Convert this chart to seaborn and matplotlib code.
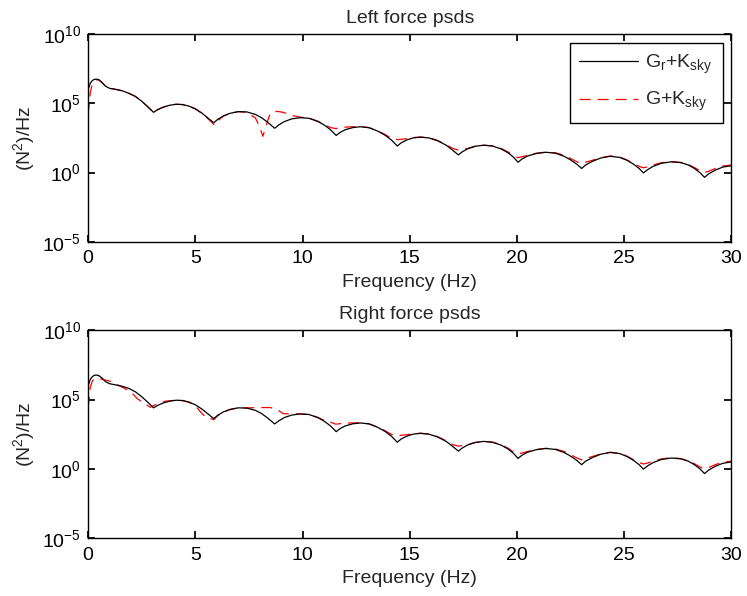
import numpy as np
import pandas as pd
import matplotlib
matplotlib.use("Agg")
import matplotlib.pyplot as plt
import matplotlib.ticker as mticker
import seaborn as sns

# ---- Force PSD data (frequency in Hz, log10 of PSD in N^2/Hz) ----
freq_gr_left = [0.0, 0.1, 0.2, 0.3, 0.4, 0.5, 0.65, 0.8, 1.0, 1.3, 1.6, 1.9, 2.2, 2.5, 2.8,
                3.05, 3.25, 3.5, 3.8, 4.1, 4.4, 4.7, 5.0, 5.3, 5.6,
                5.86, 6.05, 6.3, 6.6, 7.0, 7.4, 7.8, 8.1, 8.4,
                8.7, 8.9, 9.15, 9.5, 9.9, 10.3, 10.7, 11.0, 11.3,
                11.57, 11.75, 12.0, 12.35, 12.7, 13.1, 13.5, 13.85, 14.15,
                14.42, 14.6, 14.85, 15.15, 15.5, 15.9, 16.3, 16.7, 17.0,
                17.27, 17.45, 17.7, 18.05, 18.45, 18.85, 19.25, 19.6, 19.85,
                20.05, 20.25, 20.5, 20.9, 21.35, 21.8, 22.2, 22.5, 22.8,
                23.02, 23.2, 23.5, 23.9, 24.35, 24.8, 25.15, 25.45, 25.7,
                25.9, 26.1, 26.35, 26.75, 27.2, 27.65, 28.0, 28.3, 28.55,
                28.75, 28.95, 29.25, 29.6, 30.0]
logpsd_gr_left = [6.0, 6.45, 6.65, 6.73, 6.74, 6.7, 6.5, 6.25, 6.08, 6.0, 5.9, 5.72, 5.5, 5.15, 4.72,
                  4.35, 4.55, 4.72, 4.86, 4.93, 4.91, 4.8, 4.6, 4.3, 3.92,
                  3.6, 3.85, 4.08, 4.27, 4.4, 4.38, 4.2, 3.95, 3.6,
                  3.2, 3.45, 3.68, 3.88, 3.96, 3.92, 3.7, 3.45, 3.1,
                  2.68, 2.9, 3.1, 3.25, 3.31, 3.24, 3.0, 2.7, 2.35,
                  1.92, 2.15, 2.35, 2.5, 2.56, 2.5, 2.3, 1.98, 1.62,
                  1.28, 1.5, 1.72, 1.9, 1.98, 1.92, 1.72, 1.42, 1.1,
                  0.75, 1.0, 1.2, 1.38, 1.47, 1.4, 1.18, 0.92, 0.6,
                  0.3, 0.55, 0.8, 1.05, 1.18, 1.1, 0.88, 0.6, 0.3,
                  -0.02, 0.22, 0.45, 0.68, 0.78, 0.72, 0.55, 0.28, -0.02,
                  -0.34, -0.08, 0.18, 0.4, 0.5]

freq_g_left = [0.0, 0.1, 0.2, 0.3, 0.4, 0.5, 0.65, 0.8, 1.0, 1.3, 1.6, 1.9, 2.2, 2.5, 2.8,
               3.05, 3.25, 3.5, 3.8, 4.1, 4.4, 4.7, 5.0, 5.3, 5.6,
               5.9, 6.1, 6.3, 6.6, 7.0, 7.4, 7.8, 8.0, 8.15, 8.3,
               8.5, 8.8, 9.1, 9.5, 9.9, 10.3, 10.7, 11.0, 11.3,
               11.55, 11.75, 12.0, 12.35, 12.7, 13.1, 13.5, 13.85, 14.15,
               14.42, 14.6, 14.85, 15.15, 15.5, 15.9, 16.3, 16.7, 17.0,
               17.27, 17.45, 17.7, 18.05, 18.45, 18.85, 19.25, 19.6, 19.85,
               20.05, 20.25, 20.5, 20.9, 21.35, 21.8, 22.2, 22.5, 22.8,
               23.02, 23.2, 23.5, 23.9, 24.35, 24.8, 25.15, 25.45, 25.7,
               25.9, 26.1, 26.35, 26.75, 27.2, 27.65, 28.0, 28.3, 28.55,
               28.75, 28.95, 29.25, 29.6, 30.0]
logpsd_g_left = [4.2, 5.8, 6.4, 6.62, 6.7, 6.68, 6.48, 6.25, 6.08, 6.0, 5.9, 5.72, 5.5, 5.15, 4.72,
                 4.33, 4.55, 4.72, 4.86, 4.93, 4.91, 4.8, 4.6, 4.28, 3.88,
                 3.42, 3.8, 4.08, 4.27, 4.4, 4.35, 3.95, 3.3, 2.62, 3.4,
                 4.3, 4.42, 4.35, 4.12, 4.0, 3.93, 3.72, 3.5, 3.25,
                 3.18, 3.24, 3.28, 3.31, 3.32, 3.25, 3.02, 2.75, 2.48,
                 2.38, 2.4, 2.45, 2.53, 2.57, 2.51, 2.32, 2.02, 1.75,
                 1.62, 1.67, 1.74, 1.9, 1.98, 1.93, 1.75, 1.48, 1.2,
                 1.08, 1.15, 1.25, 1.4, 1.48, 1.43, 1.25, 1.02, 0.78,
                 0.65, 0.75, 0.88, 1.08, 1.2, 1.12, 0.9, 0.65, 0.45,
                 0.35, 0.42, 0.55, 0.72, 0.8, 0.74, 0.58, 0.35, 0.12,
                 0.02, 0.1, 0.3, 0.48, 0.55]

freq_gr_right = freq_gr_left
logpsd_gr_right = [6.0, 6.45, 6.66, 6.75, 6.76, 6.72, 6.55, 6.3, 6.14, 6.05, 5.95, 5.8, 5.56, 5.2, 4.78,
                   4.4, 4.58, 4.75, 4.88, 4.95, 4.93, 4.82, 4.62, 4.32, 3.95,
                   3.62, 3.87, 4.1, 4.28, 4.4, 4.38, 4.22, 3.98, 3.63,
                   3.24, 3.47, 3.7, 3.88, 3.96, 3.92, 3.7, 3.45, 3.1,
                   2.68, 2.9, 3.1, 3.25, 3.31, 3.24, 3.0, 2.7, 2.35,
                   1.92, 2.15, 2.35, 2.5, 2.56, 2.5, 2.3, 1.98, 1.62,
                   1.28, 1.5, 1.72, 1.9, 1.98, 1.92, 1.72, 1.42, 1.1,
                   0.75, 1.0, 1.2, 1.38, 1.47, 1.4, 1.18, 0.92, 0.6,
                   0.3, 0.55, 0.8, 1.05, 1.18, 1.1, 0.88, 0.6, 0.3,
                   -0.02, 0.22, 0.45, 0.68, 0.78, 0.72, 0.55, 0.28, -0.02,
                   -0.34, -0.08, 0.18, 0.4, 0.5]

freq_g_right = [0.0, 0.1, 0.2, 0.3, 0.4, 0.55, 0.75, 1.0, 1.4, 1.7, 2.0, 2.3, 2.6, 2.9,
                3.1, 3.3, 3.6, 4.1, 4.4, 4.7, 5.0, 5.3, 5.5,
                5.86, 6.05, 6.3, 6.6, 7.0, 7.5, 8.0, 8.5, 8.8,
                9.1, 9.5, 9.9, 10.3, 10.7, 11.0, 11.2,
                11.55, 11.75, 12.0, 12.35, 12.7, 13.1, 13.5, 13.85, 14.15,
                14.42, 14.6, 14.85, 15.15, 15.5, 15.9, 16.3, 16.7, 17.0,
                17.27, 17.45, 17.7, 18.05, 18.45, 18.85, 19.25, 19.6, 19.85,
                20.05, 20.25, 20.5, 20.9, 21.35, 21.8, 22.2, 22.5, 22.8,
                23.02, 23.2, 23.5, 23.9, 24.35, 24.8, 25.15, 25.45, 25.7,
                25.9, 26.1, 26.35, 26.75, 27.2, 27.65, 28.0, 28.3, 28.55,
                28.75, 28.95, 29.25, 29.6, 30.0]
logpsd_g_right = [4.4, 5.9, 6.35, 6.5, 6.52, 6.5, 6.42, 6.33, 6.04, 5.8, 5.55, 5.05, 4.75, 4.44,
                  4.6, 4.72, 4.88, 4.95, 4.92, 4.8, 4.55, 4.0, 3.72,
                  3.55, 3.85, 4.08, 4.27, 4.4, 4.4, 4.42, 4.42, 4.3,
                  3.98, 3.96, 3.96, 3.92, 3.72, 3.5, 3.43,
                  3.22, 3.26, 3.3, 3.31, 3.32, 3.25, 3.02, 2.75, 2.48,
                  2.4, 2.42, 2.46, 2.53, 2.57, 2.51, 2.32, 2.02, 1.75,
                  1.64, 1.68, 1.75, 1.9, 1.98, 1.93, 1.75, 1.48, 1.2,
                  1.08, 1.15, 1.25, 1.4, 1.48, 1.43, 1.25, 1.02, 0.78,
                  0.65, 0.75, 0.88, 1.08, 1.2, 1.12, 0.9, 0.65, 0.45,
                  0.35, 0.42, 0.55, 0.72, 0.8, 0.74, 0.58, 0.35, 0.12,
                  0.02, 0.1, 0.3, 0.48, 0.55]

panel_titles = ["Left force psds", "Right force psds"]
series_labels = [r"G$_r$+K$_{sky}$", r"G+K$_{sky}$"]
x_ticks = [0, 5, 10, 15, 20, 25, 30]
y_ticks = [1e-5, 1e0, 1e5, 1e10]

# ---- Style ----
sns.set_theme(style="ticks")
plt.rcParams.update({
    "font.family": ["Liberation Sans", "DejaVu Sans"],
    "mathtext.fontset": "custom",
    "mathtext.rm": "Liberation Sans",
    "mathtext.it": "Liberation Sans",
    "mathtext.bf": "Liberation Sans",
    "font.size": 14,
    "axes.linewidth": 1.0,
    "axes.edgecolor": "black",
    "xtick.direction": "in",
    "ytick.direction": "in",
    "xtick.top": True,
    "ytick.right": True,
    "xtick.major.size": 5,
    "ytick.major.size": 5,
    "xtick.major.pad": 6,
    "ytick.major.pad": 5,
    "xtick.color": "black",
    "ytick.color": "black",
    "xtick.labelsize": 14,
    "ytick.labelsize": 14,
    "lines.scale_dashes": False,
})

fig = plt.figure(figsize=(7.47, 5.96), dpi=100)
ax_top = fig.add_axes([0.118, 0.594, 0.861, 0.349])
ax_bot = fig.add_axes([0.118, 0.097, 0.861, 0.349])

panels = [
    (ax_top, freq_gr_left, logpsd_gr_left, freq_g_left, logpsd_g_left),
    (ax_bot, freq_gr_right, logpsd_gr_right, freq_g_right, logpsd_g_right),
]

dash_style = (0, (8, 5))

for i, (ax, f_gr, l_gr, f_g, l_g) in enumerate(panels):
    df_gr = pd.DataFrame({"f": f_gr, "psd": 10.0 ** np.asarray(l_gr)})
    df_g = pd.DataFrame({"f": f_g, "psd": 10.0 ** np.asarray(l_g)})
    sns.lineplot(data=df_gr, x="f", y="psd", ax=ax, color="black", lw=0.9,
                 label=series_labels[0], sort=False, zorder=3)
    sns.lineplot(data=df_g, x="f", y="psd", ax=ax, color="red", lw=0.9,
                 label=series_labels[1], sort=False, zorder=2)
    ax.lines[-1].set_linestyle(dash_style)
    ax.set_yscale("log")
    ax.set_xlim(0, 30)
    ax.set_ylim(1e-5, 1e10)
    ax.set_xticks(x_ticks)
    ax.set_yticks(y_ticks)
    ax.yaxis.set_major_formatter(mticker.LogFormatterMathtext())
    ax.yaxis.set_minor_locator(mticker.NullLocator())
    ax.set_xlabel("Frequency (Hz)", fontsize=14, labelpad=5)
    ax.set_ylabel(r"(N$^2$)/Hz", fontsize=14, labelpad=4)
    ax.set_title(panel_titles[i], fontsize=14, pad=8)
    for s in ax.spines.values():
        s.set_visible(True)
        s.set_color("black")
    if i == 0:
        leg = ax.legend(loc="upper right", fontsize=14, frameon=True, fancybox=False,
                        edgecolor="black", framealpha=1, handlelength=3.0,
                        handletextpad=0.4, borderaxespad=0.45, labelspacing=0.75,
                        borderpad=0.5)
        leg.get_frame().set_linewidth(1.0)
        # dashed handle drawn with the same pattern as the plotted line
        leg.get_lines()[1].set_linestyle(dash_style)
    else:
        ax.get_legend().remove()

fig.savefig("out.png", dpi=100)
